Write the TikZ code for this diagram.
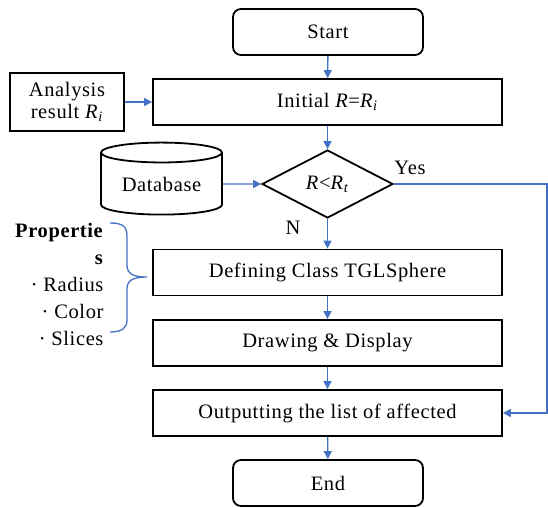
\documentclass[tikz,border=0pt]{standalone}
\usepackage{fontspec}
\setmainfont[LetterSpace=3]{Liberation Serif}
\usetikzlibrary{arrows.meta}
\usetikzlibrary{shapes.geometric}
\definecolor{flowblue}{RGB}{68,114,196}

\begin{document}
\begin{tikzpicture}[x=1pt,y=-1pt,font=\fontsize{20.5}{22}\selectfont,
    box/.style={draw,line width=1.8pt,fill=white,minimum width=349pt,minimum height=46pt,inner sep=0pt},
    term/.style={draw,line width=1.8pt,rounded corners=8pt,minimum width=190pt,minimum height=46pt,inner sep=0pt},
    flow/.style={flowblue,line width=1.4pt,-{Triangle[length=8pt,width=8pt]}}]
    \useasboundingbox (0,0) rectangle (548,507);
    \node[term] (start) at (328,32) {Start};
    \node[box] (init) at (327.5,102) {Initial \textit{R}=\textit{R}\textsubscript{\textit{i}}};
    \node[draw,line width=1.8pt,align=center,minimum width=114pt,minimum height=58pt,inner sep=0pt] (analysis) at (67,102) {Analysis\\result \textit{R}\textsubscript{\textit{i}}};
    \node[cylinder,draw,line width=1.8pt,shape border rotate=90,aspect=0.25,minimum width=121pt,minimum height=72pt,inner sep=0pt] (db) at (161.5,184) {Database};
    \node[diamond,draw,line width=1.8pt,minimum width=131pt,minimum height=68pt,inner sep=0pt] (cond) at (327.5,184) {\textit{R}<\textit{R}\textsubscript{\textit{t}}};
    \node[box] (define) at (327.5,272.5) {Defining Class TGLSphere};
    \node[box] (display) at (327.5,343) {Drawing \& Display};
    \node[box] (output) at (327.5,413) {Outputting the list of affected};
    \node[term] (stop) at (328,483) {End};
    \node (yes) at (410,168) {Yes};
    \node (no) at (293,228) {N};
    \node[align=right,anchor=east,font=\fontsize{20.5}{27}\selectfont] (props) at (107,284) {\textbf{Propertie}\\\textbf{s}\\·\ Radius\\·\ Color\\·\ Slices};
    \coordinate (turn1) at (547,184);
    \coordinate (turn2) at (547,413);
    \draw[flow] (start) -- (init);
    \draw[flow] (analysis) -- (init);
    \draw[flow] (init) -- (cond);
    \draw[flow] (db) -- (cond);
    \draw[flow] (cond) -- (define);
    \draw[flow] (define) -- (display);
    \draw[flow] (display) -- (output);
    \draw[flow] (output) -- (stop);
    \draw[flow] (cond.east) -- (turn1) -- (turn2) -- (output.east);
    % brace round the properties
    \draw[flowblue,line width=1.3pt] (110,223) .. controls (122,223) and (127,226) .. (127,236) -- (127,265)
        .. controls (127,273) and (132,277) .. (147,277) .. controls (132,277) and (127,281) .. (127,289)
        -- (127,320) .. controls (127,328) and (122,332) .. (110,332);
\end{tikzpicture}
\end{document}
